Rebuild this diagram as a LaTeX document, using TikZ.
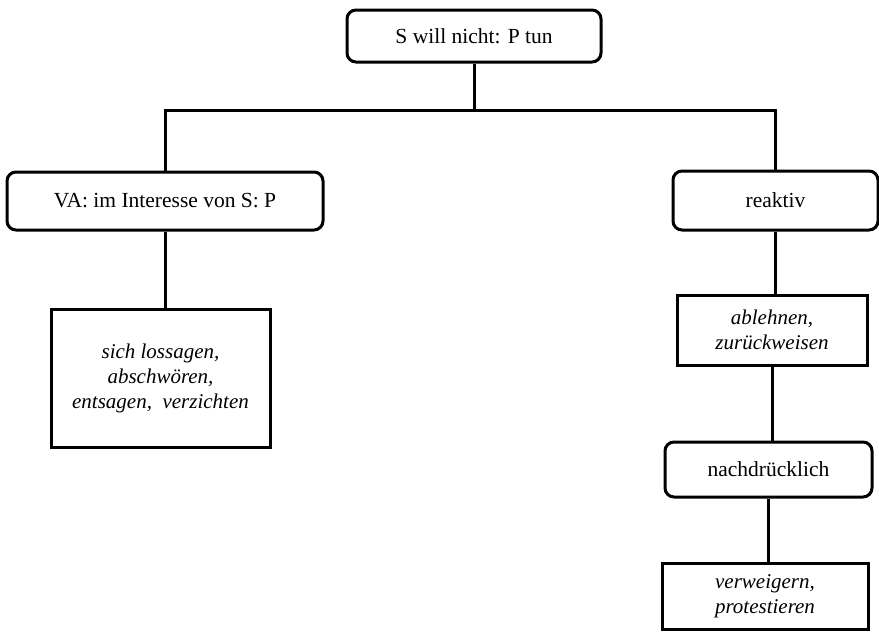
\documentclass[tikz,border=0pt]{standalone}
\usepackage{fontspec}
\setmainfont{Liberation Serif}
\begin{document}
\begin{tikzpicture}[x=1pt,y=-1pt,
  box/.style={draw=black, line width=3pt, fill=white, align=center, inner sep=0pt,
    font=\fontsize{21.5}{25}\selectfont},
  roundbox/.style={box, rounded corners=9pt},
  verbbox/.style={box, font=\fontsize{21}{25}\selectfont\itshape},
  link/.style={draw=black, line width=3pt}]
\useasboundingbox (0,0) rectangle (879,632);

% category boxes (rounded)
\node[roundbox, minimum width=254pt, minimum height=52pt] (top) at (474,36) {S will nicht: P tun};
\node[roundbox, minimum width=316pt, minimum height=58pt] (va) at (165,201) {VA: im Interesse von S: P};
\node[roundbox, minimum width=205pt, minimum height=59pt] (reaktiv) at (775.5,200.5) {reaktiv};
\node[roundbox, minimum width=207pt, minimum height=55pt] (nach) at (768.5,469.5) {nachdrücklich};

% verb boxes (square, italic)
\node[verbbox, minimum width=219pt, minimum height=138pt] (lossagen) at (160.5,378)
  {sich lossagen,\\abschwören,\\entsagen,\ \ verzichten};
\node[verbbox, minimum width=190pt, minimum height=70pt] (ablehnen) at (772,330)
  {ablehnen,\\zurückweisen};
\node[verbbox, minimum width=206pt, minimum height=66pt] (verweigern) at (765,596.5)
  {verweigern,\\protestieren};

% tree connectors
\coordinate (hub) at (top.south |- 0,110);
\draw[link] (top.south) -- (hub);
\draw[link] (va.north) |- (hub) -| (reaktiv.north);
\draw[link] (va.south) -- (va.south |- lossagen.north);
\draw[link] (reaktiv.south) -- (reaktiv.south |- ablehnen.north);
\draw[link] (ablehnen.south) -- (ablehnen.south |- nach.north);
\draw[link] (nach.south) -- (nach.south |- verweigern.north);
\end{tikzpicture}
\end{document}
